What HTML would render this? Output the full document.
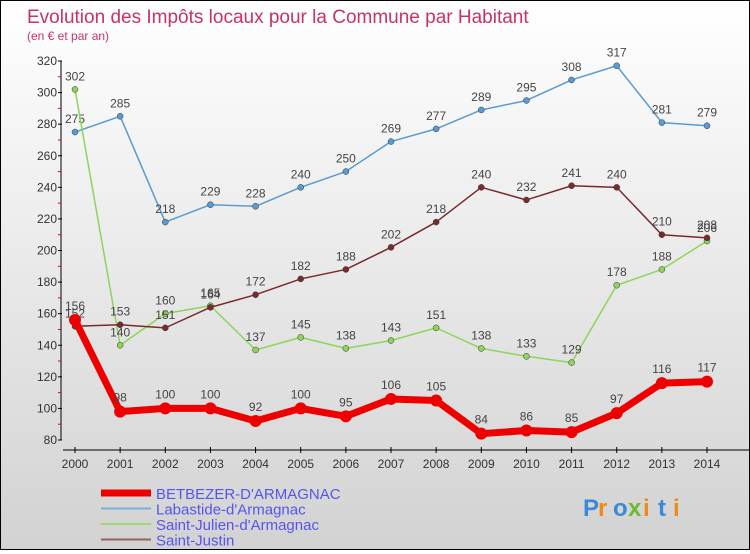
<!DOCTYPE html>
<html><head><meta charset="utf-8"><style>
body{margin:0;width:750px;height:550px;overflow:hidden;font-family:"Liberation Sans",sans-serif}
#wrap{position:absolute;left:0;top:0;width:748px;height:548px;border:1px solid #000;background:linear-gradient(#ffffff,#d2d2d2)}
</style></head><body>
<div id="wrap">
<svg id="chart" width="748" height="548"></svg>
</div>
<script>
const years=[2000,2001,2002,2003,2004,2005,2006,2007,2008,2009,2010,2011,2012,2013,2014];
const betbezer=[156,98,100,100,92,100,95,106,105,84,86,85,97,116,117];
const labastide=[275,285,218,229,228,240,250,269,277,289,295,308,317,281,279];
const stJulien=[302,140,160,165,137,145,138,143,151,138,133,129,178,188,206];
const stJustin=[152,153,151,164,172,182,188,202,218,240,232,241,240,210,208];
const yTicks=[80,100,120,140,160,180,200,220,240,260,280,300,320];
const NS="http://www.w3.org/2000/svg";
const svg=document.getElementById('chart');
const X=i=>74+i*(632/14);
const Y=v=>439-(v-80)*(379/240);
function mk(t,a,p){const e=document.createElementNS(NS,t);for(const k in a)e.setAttribute(k,a[k]);(p||svg).appendChild(e);return e;}
let t=mk('text',{x:26,y:22,fill:'#c8326a','font-size':19});t.textContent='Evolution des Impôts locaux pour la Commune par Habitant';

t=mk('text',{x:26,y:39,fill:'#c8326a','font-size':12});t.textContent='(en € et par an)';

// y axis
let ax=mk('line',{x1:60,y1:Y(320),x2:60,y2:Y(80),stroke:'#000'});

yTicks.forEach(v=>{mk('line',{x1:57,x2:61,y1:Y(v),y2:Y(v),stroke:'#000'});
if(v<320)mk('line',{x1:57,x2:60,y1:Y(v+10),y2:Y(v+10),stroke:'#e00'});
const l=mk('text',{x:56,y:Y(v)+4,'text-anchor':'end','font-size':12,fill:'#333'});l.textContent=v;
});
ax=mk('line',{x1:62,y1:449,x2:748,y2:449,stroke:'#000'});

years.forEach((y,i)=>{mk('line',{x1:X(i),x2:X(i),y1:446,y2:452,stroke:'#000'});
const l=mk('text',{x:X(i),y:467,'text-anchor':'middle','font-size':12,fill:'#333'});l.textContent=y;
});
function series(vals,color,w,r,name,dy){
const g=mk('g',{});
mk('polyline',{points:vals.map((v,i)=>X(i)+','+Y(v)).join(' '),fill:'none',stroke:color,'stroke-width':w,'stroke-linejoin':'round'},g);
vals.forEach((v,i)=>{const c=mk('circle',{cx:X(i),cy:Y(v),r:r,fill:color,stroke:'#333','stroke-width':r>4?0:0.5},g);

const l=mk('text',{x:X(i),y:Y(v)-dy,'text-anchor':'middle','font-size':12,fill:'#444'},g);l.textContent=v;});}
series(labastide,'#5a9ad2',1.5,3,'series-labastide',9);
series(stJulien,'#8ed45a',1.5,3,'series-saint-julien',9);
series(stJustin,'#7a2a2a',1.5,3,'series-saint-justin',9);
series(betbezer,'#ee0000',7,6,'series-betbezer',10);
const leg=[['BETBEZER-D\'ARMAGNAC','#ee0000',7],['Labastide-d\'Armagnac','#7aaed8',2],['Saint-Julien-d\'Armagnac','#9ed870',2],['Saint-Justin','#956060',2]];
leg.forEach((d,i)=>{const y=492+i*15.5;const g=mk('g',{});
mk('line',{x1:100,x2:150,y1:y,y2:y,stroke:d[1],'stroke-width':d[2]},g);
const l=mk('text',{x:155,y:y+6,'font-size':15,fill:'#5555ee'},g);l.textContent=d[0];});
const lg=mk('g',{});
const cols=['#3a8ad8','#f08a1a','#3a8ad8','#70b830','#f08a1a','#3a8ad8','#f08a1a'];
'Proxiti'.split('').forEach((c,i)=>{const l=mk('text',{x:582+i*15,y:515,'font-size':24,'font-weight':'bold',fill:cols[i]},lg);l.textContent=c;});
</script>
</body></html>
